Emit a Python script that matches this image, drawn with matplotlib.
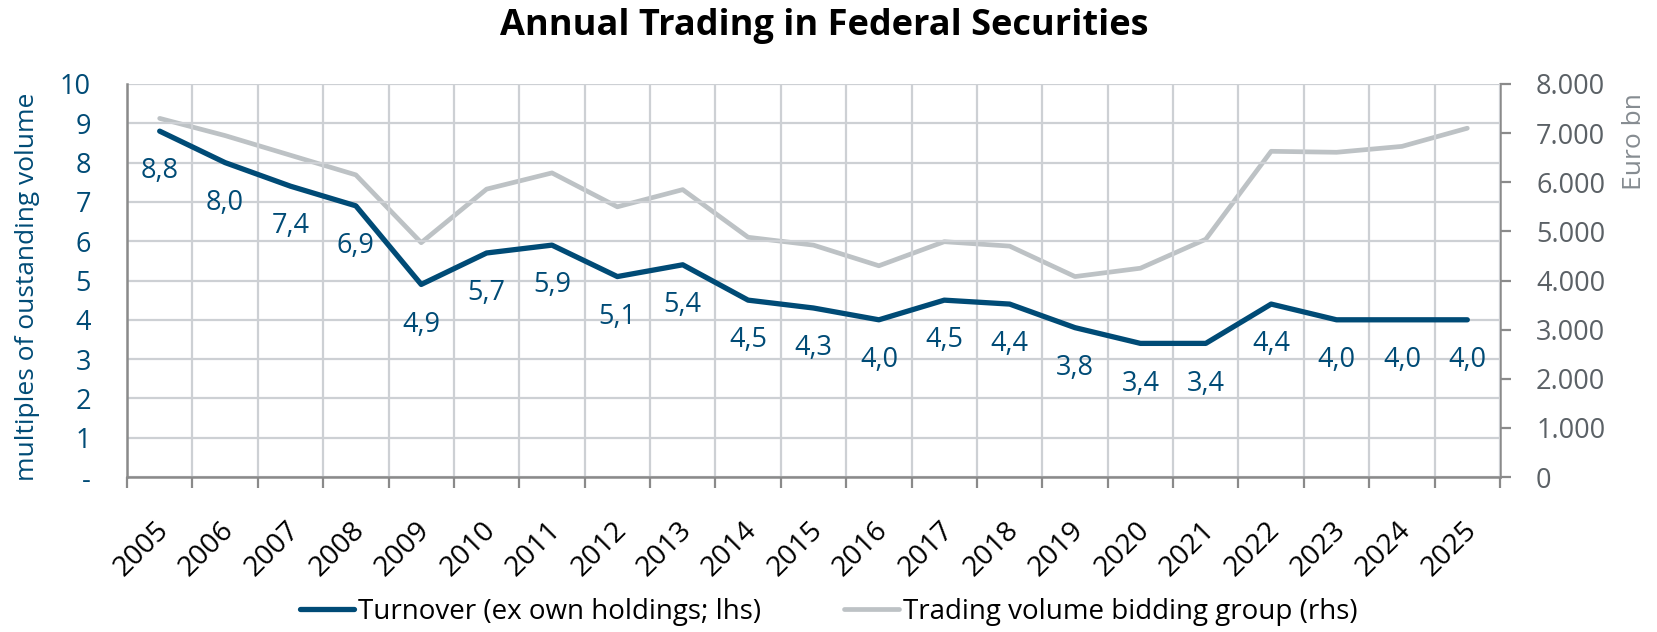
import matplotlib
matplotlib.use("Agg")
import matplotlib.pyplot as plt
from matplotlib.ticker import FixedLocator, FuncFormatter
from matplotlib.transforms import ScaledTranslation

# data
years = [str(y) for y in range(2005, 2026)]
turnover = [8.8, 8.0, 7.4, 6.9, 4.9, 5.7, 5.9, 5.1, 5.4, 4.5, 4.3,
            4.0, 4.5, 4.4, 3.8, 3.4, 3.4, 4.4, 4.0, 4.0, 4.0]
turnover_labels = ["8,8", "8,0", "7,4", "6,9", "4,9", "5,7", "5,9", "5,1", "5,4", "4,5", "4,3",
                   "4,0", "4,5", "4,4", "3,8", "3,4", "3,4", "4,4", "4,0", "4,0", "4,0"]
volume = [7300, 6950, 6550, 6150, 4770, 5860, 6190, 5500, 5850, 4880, 4720,
          4300, 4790, 4700, 4080, 4250, 4840, 6630, 6610, 6730, 7100]
left_ticks = list(range(0, 11))
left_tick_labels = ["-"] + [str(v) for v in range(1, 11)]
right_ticks = list(range(0, 8001, 1000))

BLUE = "#004B76"
GRAY_LINE = "#BDC2C5"
GRID = "#CDD0D4"
SPINE = "#8A8A8A"
RTEXT = "#5B6166"

plt.rcParams['font.family'] = ['Open Sans', 'DejaVu Sans']

fig = plt.figure(figsize=(16.57, 6.32), dpi=100)
ax = fig.add_axes([127 / 1657, 1 - 477 / 632, (1500 - 127) / 1657, (477 - 84) / 632])
ax2 = ax.twinx()

x = list(range(len(years)))

# grid
ax.set_xlim(-0.5, len(years) - 0.5)
ax.set_ylim(0, 10)
ax2.set_ylim(0, 8000)
ax.set_axisbelow(True)
ax.xaxis.set_minor_locator(FixedLocator([i - 0.5 for i in range(len(years) + 1)]))
ax.grid(True, which='minor', axis='x', color=GRID, linewidth=1.6)
ax.grid(True, which='major', axis='y', color=GRID, linewidth=1.6)
ax.grid(False, which='major', axis='x')

# lines (gray on the twin axis, drawn under the blue one)
ax2.plot(x, volume, color=GRAY_LINE, linewidth=3.4, solid_capstyle='round',
         solid_joinstyle='round', label='Trading volume bidding group (rhs)')
ax2.set_zorder(1)
ax.set_zorder(2)
ax.patch.set_visible(False)
ax.plot(x, turnover, color=BLUE, linewidth=3.8, solid_capstyle='round',
        solid_joinstyle='round', label='Turnover (ex own holdings; lhs)')

for xi, yi, lab in zip(x, turnover, turnover_labels):
    ax.annotate(lab, (xi, yi), xytext=(0, -29), textcoords='offset points',
                ha='center', va='center', color=BLUE, fontsize=19.5)

# left axis
ax.set_yticks(left_ticks)
ax.set_yticklabels(left_tick_labels)
ax.tick_params(axis='y', length=0, pad=26, labelsize=19.5, labelcolor=BLUE)
ax.set_ylabel('multiples of oustanding volume', color=BLUE, fontsize=19, labelpad=14,
              loc='top')
ax.yaxis.label.set_y(1 - 9 / 393)

# x axis
ax.set_xticks(x)
ax.set_xticklabels(years, rotation=45, ha='right', rotation_mode='anchor')
ax.tick_params(axis='x', which='major', length=0, pad=28, labelsize=20.5)
ax.tick_params(axis='x', which='minor', length=8, width=1.6, color=SPINE, direction='out')
shift = ScaledTranslation(-5 / 100, 0, fig.dpi_scale_trans)
for lab in ax.get_xticklabels():
    lab.set_transform(lab.get_transform() + shift)

# right axis
ax2.yaxis.set_major_locator(FixedLocator(right_ticks))
ax2.yaxis.set_major_formatter(FuncFormatter(lambda v, p: f"{int(v):,}".replace(",", ".")))
ax2.tick_params(axis='y', length=8, width=1.6, color=SPINE, pad=18, labelsize=19.5,
                labelcolor=RTEXT)
ax2.set_ylabel('Euro bn', color="#868C91", fontsize=19, loc='top', labelpad=12)
ax2.yaxis.label.set_y(1 - 9 / 393)

for a in (ax, ax2):
    a.spines['top'].set_visible(False)
    for s in ('left', 'right', 'bottom'):
        a.spines[s].set_color(SPINE)
        a.spines[s].set_linewidth(1.8)
ax2.spines['left'].set_visible(False)
ax2.spines['bottom'].set_visible(False)
ax.spines['right'].set_visible(False)

fig.text(0.4975, 1 - 26 / 632, 'Annual Trading in Federal Securities', ha='center', va='center',
         fontsize=26, fontweight='bold')

h1, l1 = ax.get_legend_handles_labels()
h2, l2 = ax2.get_legend_handles_labels()
fig.legend(h1 + h2, l1 + l2, loc='center', bbox_to_anchor=(0.5, 1 - 612 / 632), ncol=2,
           frameon=False, handlelength=1.95, handletextpad=0.15, columnspacing=3.0,
           prop={'size': 20})

fig.savefig('out.png', dpi=100)
